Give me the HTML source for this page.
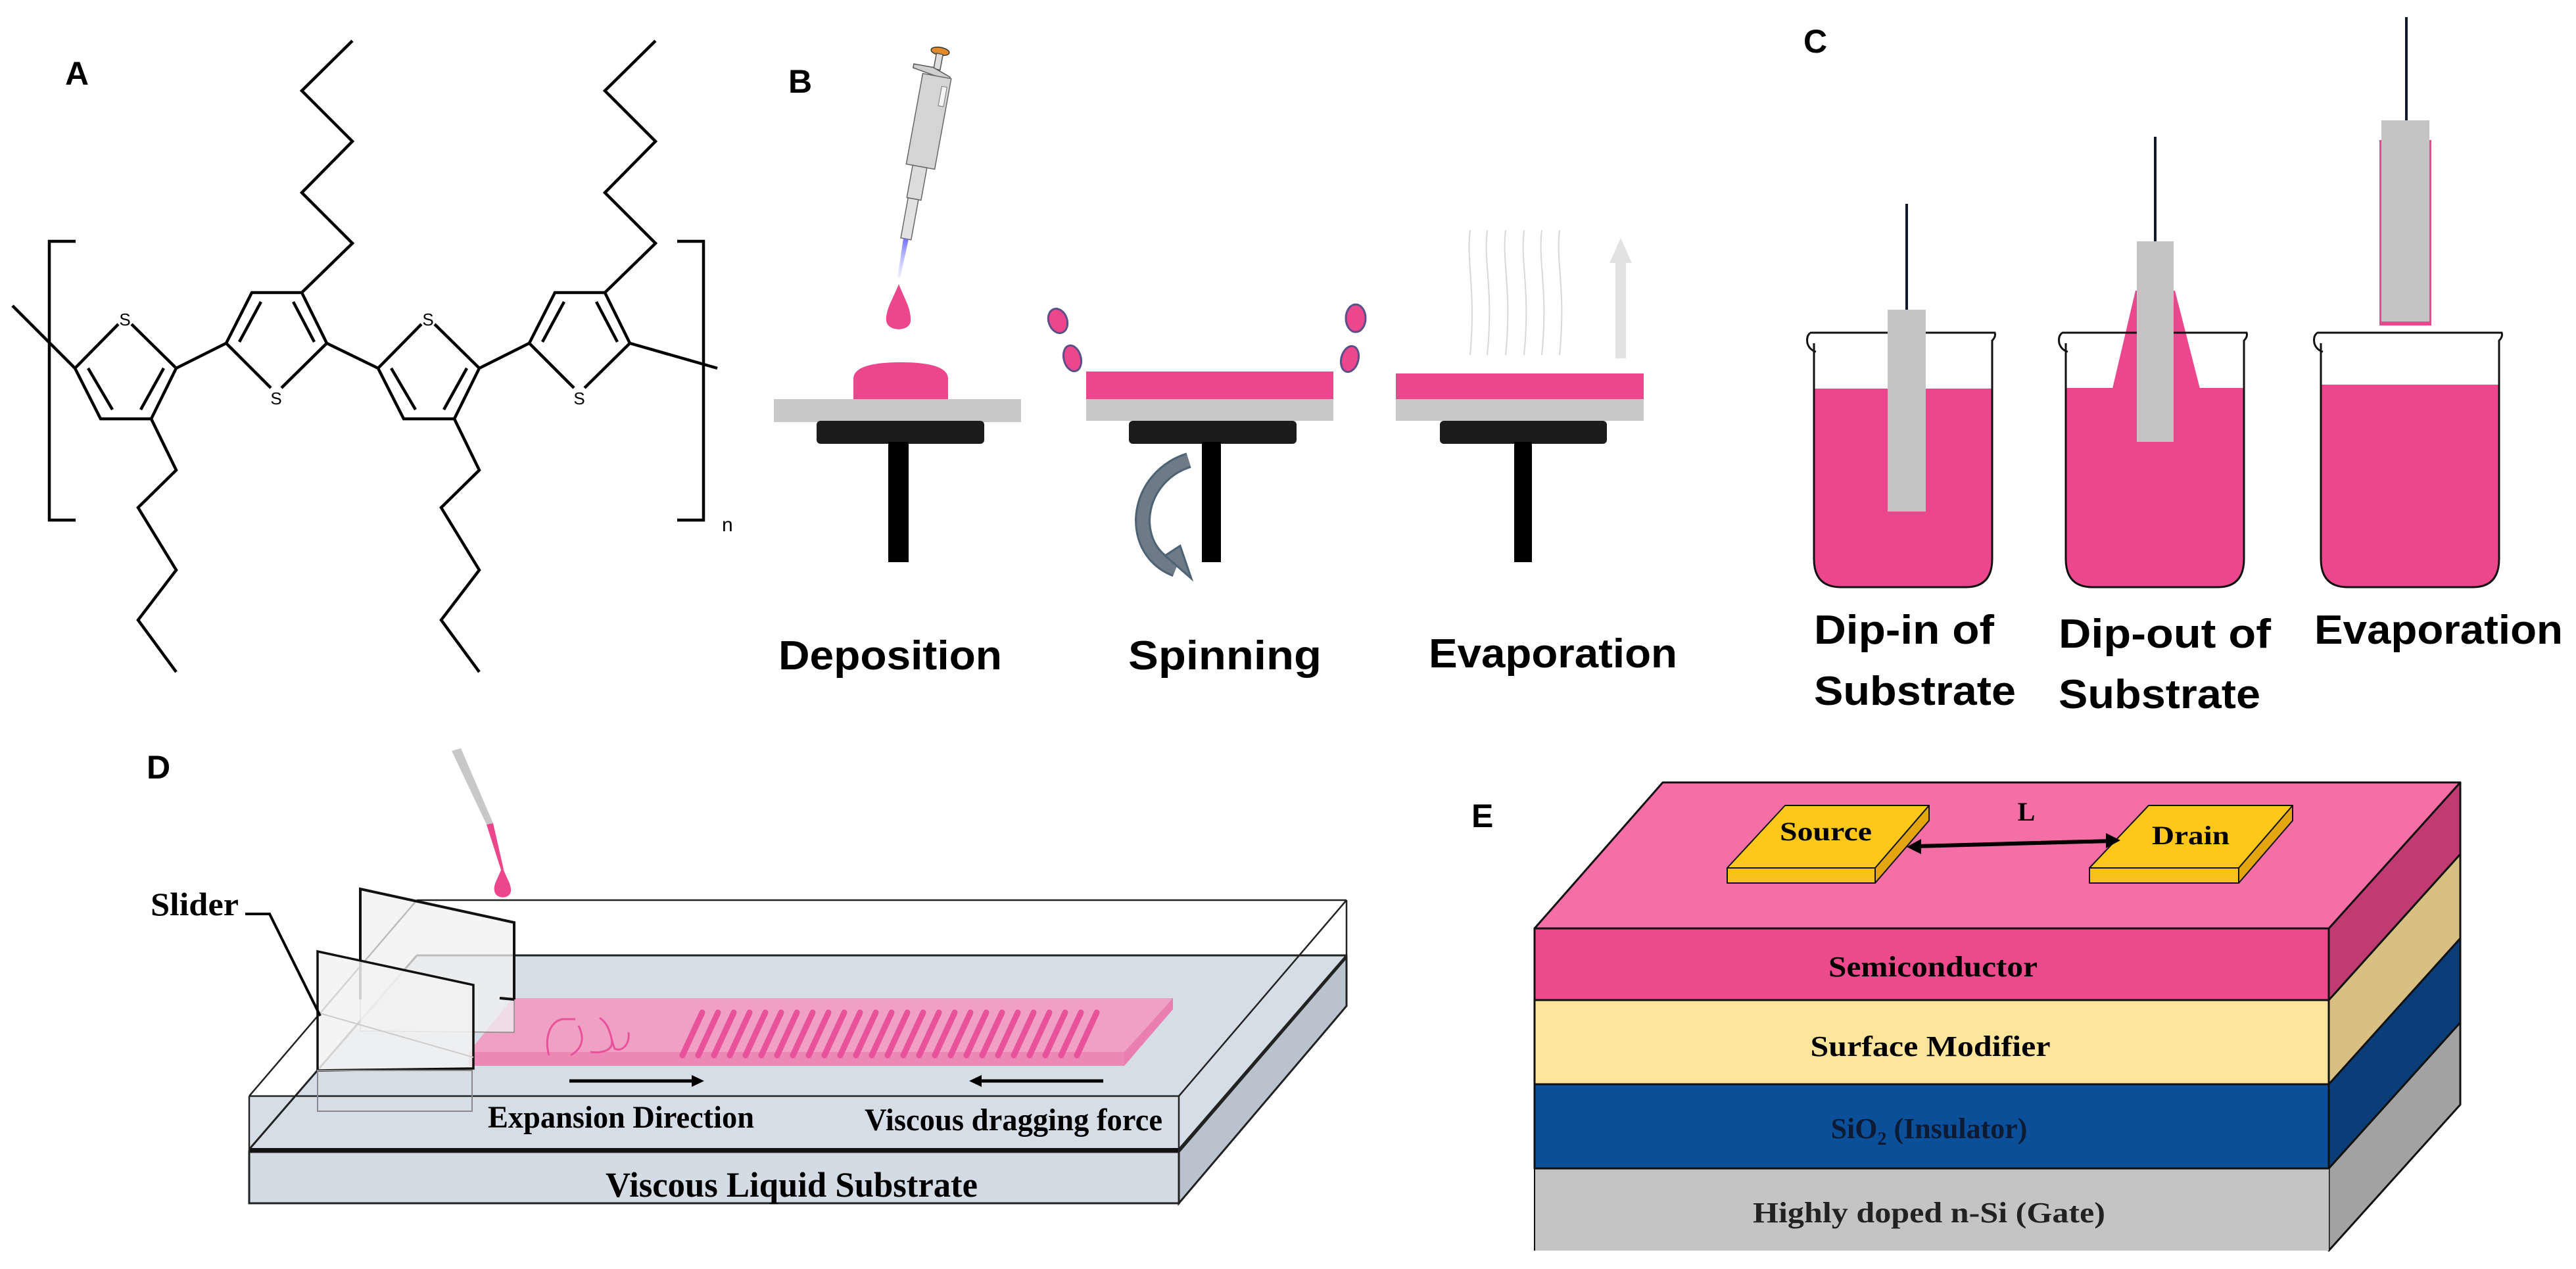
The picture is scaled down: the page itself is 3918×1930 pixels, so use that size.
<!DOCTYPE html>
<html><head><meta charset="utf-8"><style>html,body{margin:0;padding:0;background:#fff}svg{display:block}</style></head>
<body>
<svg width="3918" height="1930" viewBox="0 0 3918 1930" xmlns="http://www.w3.org/2000/svg">
<rect width="3918" height="1930" fill="#fff"/>
<defs>
<linearGradient id="blue" x1="0" y1="0" x2="0" y2="1"><stop offset="0" stop-color="#7070ff"/><stop offset="1" stop-color="#c8c8ff" stop-opacity="0.3"/></linearGradient>
</defs>

<g font-family="Liberation Sans, sans-serif" font-weight="bold" font-size="50" fill="#000">
<text x="99" y="129">A</text>
<text x="1199" y="141">B</text>
<text x="2743" y="80">C</text>
<text x="223" y="1184">D</text>
<text x="2238" y="1258">E</text>
</g>

<!-- Panel A -->
<g stroke="#000" stroke-width="4.5" fill="none" stroke-linejoin="miter">
<path d="M115,367 H75 V791 H115"/>
<path d="M1030,367 H1070 V791 H1030"/>
<path d="M19,465 L114,560"/>
<path d="M497,522 L575,560"/>
<path d="M958,522 L1091,560"/>
<g id="unit">
<path d="M180,493 L114,560 L153,637 L230,637 L268,560 L200,493"/>
<path d="M134,560 L171,623 M249,560 L214,623"/>
<path d="M268,560 L344,522"/>
<path d="M344,522 L383,445 L459,445 L497,522 L428,590 M412,590 L344,522"/>
<path d="M397,459 L364,520 M446,459 L478,520"/>
<path d="M459,445 L536,370 L459,293 L536,215 L459,138 L536,62"/>
<path d="M230,637 L268,715 L210,772 L268,867 L210,943 L268,1022"/>
</g>
<use href="#unit" transform="translate(461,0)"/>
</g>
<g font-family="Liberation Sans, sans-serif" font-size="26" fill="#000" text-anchor="middle">
<text x="190" y="495">S</text><text x="420" y="615">S</text>
<text x="651" y="495">S</text><text x="881" y="615">S</text>
</g>
<text x="1098" y="808" font-family="Liberation Sans, sans-serif" font-size="30">n</text>

<!-- Panel B -->
<g transform="translate(1430,78) rotate(10.35)">
<ellipse cx="0" cy="0" rx="14" ry="6" fill="#e08a2a" stroke="#333" stroke-width="1.5"/>
<rect x="-5" y="4" width="10" height="24" fill="#ddd" stroke="#555" stroke-width="1.5"/>
<path d="M-36,26 L-6,26 L22,36 L22,42 L-36,32 Z" fill="#cfcfcf" stroke="#555" stroke-width="1.5"/>
<rect x="-20" y="38" width="44" height="140" fill="#d4d4d4" stroke="#666" stroke-width="1.5"/>
<rect x="12" y="52" width="8" height="30" fill="#f4f4f4" stroke="#777" stroke-width="1"/>
<rect x="-10" y="178" width="22" height="50" fill="#dcdcdc" stroke="#666" stroke-width="1.5"/>
<rect x="-8" y="228" width="16" height="62" fill="#e2e2e2" stroke="#666" stroke-width="1.5"/>
<path d="M-4,290 L4,290 L2,350 L-2,350 Z" fill="url(#blue)"/>
</g>
<path d="M1367,432 C1358,455 1347,470 1348,488 C1350,505 1384,505 1385,488 C1386,470 1376,455 1367,432 Z" fill="#ec468d"/>
<path d="M1298,607 L1298,575 Q1300,551 1370,551 Q1440,551 1442,575 L1442,607 Z" fill="#ec468d"/>
<rect x="1177" y="607" width="376" height="35" fill="#c8c8c8"/>
<rect x="1242" y="640" width="255" height="35" rx="6" fill="#1c1c1c"/>
<rect x="1351" y="672" width="31" height="183" fill="#000"/>
<rect x="1652" y="565" width="376" height="42" fill="#ec468d"/>
<rect x="1652" y="607" width="376" height="33" fill="#c8c8c8"/>
<rect x="1717" y="640" width="255" height="35" rx="6" fill="#1c1c1c"/>
<rect x="1828" y="672" width="29" height="183" fill="#000"/>
<g fill="#ec468d" stroke="#5b4f8a" stroke-width="3">
<ellipse cx="1609" cy="488" rx="14" ry="19" transform="rotate(-20 1609 488)"/>
<ellipse cx="1631" cy="545" rx="13" ry="20" transform="rotate(-15 1631 545)"/>
<ellipse cx="2062" cy="484" rx="15" ry="21"/>
<ellipse cx="2053" cy="546" rx="13" ry="20" transform="rotate(15 2053 546)"/>
</g>
<path d="M1808,700 C1770,712 1740,745 1738,790 C1738,830 1760,855 1788,866" fill="none" stroke="#4d6275" stroke-width="24"/>
<path d="M1808,700 C1770,712 1740,745 1738,790 C1738,830 1760,855 1788,866" fill="none" stroke="#6e7a86" stroke-width="18"/>
<path d="M1772,845 L1812,880 L1795,830 Z" fill="#6e7a86" stroke="#4d6275" stroke-width="3"/>
<g stroke="#d8d8d8" stroke-width="2" fill="none">
<path d="M2236,350 C2230,400 2245,440 2236,540"/>
<path d="M2262,350 C2256,400 2272,440 2262,540"/>
<path d="M2290,350 C2284,400 2300,440 2290,540"/>
<path d="M2318,350 C2312,400 2328,440 2318,540"/>
<path d="M2345,350 C2339,400 2355,440 2345,540"/>
<path d="M2372,350 C2366,400 2382,440 2372,540"/>
</g>
<path d="M2457,545 L2457,400 L2448,400 L2465,362 L2482,400 L2473,400 L2473,545 Z" fill="#e2e2e2"/>
<rect x="2123" y="568" width="377" height="39" fill="#ec468d"/>
<rect x="2123" y="607" width="377" height="33" fill="#c8c8c8"/>
<rect x="2190" y="640" width="254" height="35" rx="6" fill="#1c1c1c"/>
<rect x="2303" y="672" width="27" height="183" fill="#000"/>
<g font-family="Liberation Sans, sans-serif" font-size="62" font-weight="bold" fill="#000">
<text x="1184" y="1018" textLength="340" lengthAdjust="spacingAndGlyphs">Deposition</text>
<text x="1716" y="1018" textLength="294" lengthAdjust="spacingAndGlyphs">Spinning</text>
<text x="2173" y="1015" textLength="378" lengthAdjust="spacingAndGlyphs">Evaporation</text>
</g>

<!-- Panel C -->
<path d="M2759,591 L3030,591 L3030,850 Q3030,893 2990,893 L2800,893 Q2759,893 2759,850 Z" fill="#ec468d"/>
<path d="M2759,522 L2759,850 Q2759,893 2800,893 L2990,893 Q3030,893 3030,850 L3030,518 Q3036,512 3034,506 L2754,506 Q2747,510 2749,522 Q2752,532 2762,535" fill="none" stroke="#111" stroke-width="3"/>
<rect x="2871" y="471" width="58" height="307" fill="#c4c4c4"/>
<line x1="2900" y1="310" x2="2900" y2="471" stroke="#111a2a" stroke-width="4"/>
<path d="M3142,590 L3413,590 L3413,850 Q3413,893 3373,893 L3183,893 Q3142,893 3142,850 Z" fill="#ec468d"/>
<path d="M3213,591 L3248,442 L3308,442 L3346,591 Z" fill="#ec468d"/>
<path d="M3142,522 L3142,850 Q3142,893 3183,893 L3373,893 Q3413,893 3413,850 L3413,518 Q3419,512 3417,506 L3137,506 Q3130,510 3132,522 Q3135,532 3145,535" fill="none" stroke="#111" stroke-width="3"/>
<rect x="3250" y="367" width="56" height="305" fill="#c4c4c4"/>
<line x1="3278" y1="208" x2="3278" y2="367" stroke="#111a2a" stroke-width="4"/>
<path d="M3530,585 L3801,585 L3801,850 Q3801,893 3761,893 L3571,893 Q3530,893 3530,850 Z" fill="#ec468d"/>
<path d="M3530,522 L3530,850 Q3530,893 3571,893 L3761,893 Q3801,893 3801,850 L3801,518 Q3807,512 3805,506 L3525,506 Q3518,510 3520,522 Q3523,532 3533,535" fill="none" stroke="#111" stroke-width="3"/>
<rect x="3619" y="213" width="79" height="282" fill="#ec468d"/>
<rect x="3622" y="183" width="73" height="306" fill="#c4c4c4"/>
<line x1="3660" y1="26" x2="3660" y2="183" stroke="#111a2a" stroke-width="4"/>
<g font-family="Liberation Sans, sans-serif" font-size="62" font-weight="bold" fill="#000">
<text x="2759" y="979" textLength="274" lengthAdjust="spacingAndGlyphs">Dip-in of</text>
<text x="2759" y="1072" textLength="307" lengthAdjust="spacingAndGlyphs">Substrate</text>
<text x="3131" y="985" textLength="323" lengthAdjust="spacingAndGlyphs">Dip-out of</text>
<text x="3131" y="1077" textLength="307" lengthAdjust="spacingAndGlyphs">Substrate</text>
<text x="3520" y="979" textLength="378" lengthAdjust="spacingAndGlyphs">Evaporation</text>
</g>

<!-- Panel D -->
<polygon points="1793,1752 2048,1456 2048,1530 1793,1830" fill="#b9c3cd" stroke="#222" stroke-width="3"/>
<rect x="379" y="1752" width="1414" height="78" fill="#d3dbe4" stroke="#222" stroke-width="3"/>
<polygon points="634,1453 2048,1453 1793,1748 379,1748" fill="#d5dee7"/>
<rect x="379" y="1667" width="1414" height="81" fill="#d5dee7"/>
<line x1="634" y1="1453" x2="2048" y2="1453" stroke="#222" stroke-width="3"/>
<line x1="379" y1="1749" x2="1793" y2="1749" stroke="#111" stroke-width="6"/>
<line x1="379" y1="1748" x2="634" y2="1453" stroke="#222" stroke-width="3"/>
<line x1="1793" y1="1748" x2="2048" y2="1453" stroke="#222" stroke-width="3"/>
<g stroke="#222" stroke-width="2.5" fill="none">
<line x1="634" y1="1369" x2="2048" y2="1369"/>
<line x1="2048" y1="1369" x2="2048" y2="1453"/>
<line x1="379" y1="1667" x2="1793" y2="1667"/>
<line x1="379" y1="1667" x2="379" y2="1752"/>
<line x1="1793" y1="1667" x2="1793" y2="1752"/>
<line x1="379" y1="1667" x2="634" y2="1369"/>
<line x1="1793" y1="1667" x2="2048" y2="1369"/>
</g>
<polygon points="780,1518 1784,1518 1710,1600 713,1600" fill="#f0a0c4"/>
<polygon points="713,1600 1710,1600 1710,1621 713,1621" fill="#ec88b6"/>
<polygon points="1710,1600 1784,1518 1784,1535 1710,1621" fill="#e97fb0"/>
<g stroke="#e8529a" stroke-width="9" stroke-linecap="round">
<line x1="1038" y1="1605" x2="1068" y2="1540"/><line x1="1062" y1="1605" x2="1092" y2="1540"/><line x1="1086" y1="1605" x2="1116" y2="1540"/><line x1="1110" y1="1605" x2="1140" y2="1540"/><line x1="1134" y1="1605" x2="1164" y2="1540"/><line x1="1158" y1="1605" x2="1188" y2="1540"/><line x1="1182" y1="1605" x2="1212" y2="1540"/><line x1="1206" y1="1605" x2="1236" y2="1540"/><line x1="1230" y1="1605" x2="1260" y2="1540"/><line x1="1254" y1="1605" x2="1284" y2="1540"/><line x1="1278" y1="1605" x2="1308" y2="1540"/><line x1="1302" y1="1605" x2="1332" y2="1540"/><line x1="1326" y1="1605" x2="1356" y2="1540"/><line x1="1350" y1="1605" x2="1380" y2="1540"/><line x1="1374" y1="1605" x2="1404" y2="1540"/><line x1="1398" y1="1605" x2="1428" y2="1540"/><line x1="1422" y1="1605" x2="1452" y2="1540"/><line x1="1446" y1="1605" x2="1476" y2="1540"/><line x1="1470" y1="1605" x2="1500" y2="1540"/><line x1="1494" y1="1605" x2="1524" y2="1540"/><line x1="1518" y1="1605" x2="1548" y2="1540"/><line x1="1542" y1="1605" x2="1572" y2="1540"/><line x1="1566" y1="1605" x2="1596" y2="1540"/><line x1="1590" y1="1605" x2="1620" y2="1540"/><line x1="1614" y1="1605" x2="1644" y2="1540"/><line x1="1638" y1="1605" x2="1668" y2="1540"/>
</g>
<g stroke="#e8529a" stroke-width="3" fill="none">
<path d="M835,1605 C828,1580 835,1555 855,1550 L875,1550"/>
<path d="M868,1605 C885,1595 890,1580 880,1560"/>
<path d="M912,1548 C930,1560 928,1580 935,1595 C945,1600 958,1590 956,1570"/>
<path d="M898,1600 C915,1602 935,1598 930,1580"/>
</g>
<polygon points="548,1352 782,1403 782,1570 548,1568" fill="#f0f0f0" fill-opacity="0.75" stroke="#888" stroke-width="1.5"/>
<path d="M548,1520 L548,1352 L782,1403 L782,1520" fill="none" stroke="#111" stroke-width="4"/>
<path d="M782,1520 L760,1518" stroke="#111" stroke-width="4"/>
<polygon points="483,1447 720,1498 720,1625 483,1628" fill="#f2f2f2" fill-opacity="0.85" stroke="#111" stroke-width="3.5"/>
<rect x="483" y="1628" width="235" height="62" fill="none" stroke="#888" stroke-width="2"/>
<line x1="483" y1="1540" x2="720" y2="1608" stroke="#ccc" stroke-width="2"/>
<line x1="866" y1="1644" x2="1055" y2="1644" stroke="#000" stroke-width="5"/>
<polygon points="1052,1635 1071,1644 1052,1653" fill="#000"/>
<line x1="1678" y1="1644" x2="1490" y2="1644" stroke="#000" stroke-width="5"/>
<polygon points="1493,1635 1474,1644 1493,1653" fill="#000"/>
<polygon points="687,1142 701,1138 750,1252 740,1254" fill="#c8c8c8"/>
<polygon points="740,1254 750,1252 766,1322 762,1323" fill="#ec468d"/>
<path d="M764,1318 C758,1335 750,1345 752,1355 C754,1368 776,1368 777,1355 C778,1345 770,1335 764,1318 Z" fill="#ec468d"/>
<path d="M373,1390 L410,1390 L487,1545" fill="none" stroke="#000" stroke-width="4"/>
<g font-family="Liberation Serif, serif" font-weight="bold" fill="#000">
<text x="229" y="1392" font-size="50" textLength="134" lengthAdjust="spacingAndGlyphs">Slider</text>
<text x="742" y="1715" font-size="48" textLength="405" lengthAdjust="spacingAndGlyphs">Expansion Direction</text>
<text x="1315" y="1719" font-size="48" textLength="453" lengthAdjust="spacingAndGlyphs">Viscous dragging force</text>
<text x="921" y="1820" font-size="54" textLength="566" lengthAdjust="spacingAndGlyphs">Viscous Liquid Substrate</text>
</g>

<!-- Panel E -->
<g stroke="#111" stroke-width="3" stroke-linejoin="round">
<polygon points="3542,1777 3742,1555 3742,1680 3542,1902" fill="#a2a2a2"/>
<polygon points="3542,1649 3742,1427 3742,1555 3542,1777" fill="#0b3e78"/>
<polygon points="3542,1521 3742,1299 3742,1427 3542,1649" fill="#d8bf82"/>
<polygon points="3542,1412 3742,1190 3742,1299 3542,1521" fill="#c23a72"/>
<polygon points="2529,1190 3742,1190 3542,1412 2334,1412" fill="#f56ea5"/>
<rect x="2334" y="1412" width="1208" height="109" fill="#ec4a8c"/>
<rect x="2334" y="1521" width="1208" height="128" fill="#fee59c"/>
<rect x="2334" y="1649" width="1208" height="128" fill="#0a4f98"/>
<rect x="2334" y="1777" width="1208" height="125" fill="#c4c4c4" stroke="none"/>
<line x1="2334" y1="1777" x2="3542" y2="1777"/>
<line x1="2334" y1="1777" x2="2334" y2="1902" stroke-width="2"/>
<polygon points="2627,1320 2852,1320 2852,1343 2627,1343" fill="#f7c21a" stroke-width="2"/>
<polygon points="2852,1320 2934,1225 2934,1248 2852,1343" fill="#e4a60e" stroke-width="2"/>
<polygon points="2715,1225 2934,1225 2852,1320 2627,1320" fill="#fdc81a" stroke-width="2"/>
<polygon points="3178,1320 3405,1320 3405,1343 3178,1343" fill="#f7c21a" stroke-width="2"/>
<polygon points="3405,1320 3487,1225 3487,1248 3405,1343" fill="#e4a60e" stroke-width="2"/>
<polygon points="3268,1225 3487,1225 3405,1320 3178,1320" fill="#fdc81a" stroke-width="2"/>
</g>
<line x1="2915" y1="1287" x2="3210" y2="1279" stroke="#000" stroke-width="6"/>
<polygon points="2900,1288 2922,1276 2922,1299" fill="#000"/>
<polygon points="3225,1278 3203,1267 3203,1290" fill="#000"/>
<g font-family="Liberation Serif, serif" font-weight="bold" fill="#000" text-anchor="middle">
<text x="3082" y="1248" font-size="40">L</text>
<text x="2777" y="1278" font-size="40" textLength="140" lengthAdjust="spacingAndGlyphs">Source</text>
<text x="3332" y="1284" font-size="40" textLength="118" lengthAdjust="spacingAndGlyphs">Drain</text>
<text x="2940" y="1485" font-size="44" textLength="318" lengthAdjust="spacingAndGlyphs">Semiconductor</text>
<text x="2936" y="1606" font-size="44" textLength="365" lengthAdjust="spacingAndGlyphs">Surface Modifier</text>
<text x="2934" y="1731" font-size="44" fill="#0d1a33">SiO<tspan font-size="28" dy="10">2</tspan><tspan dy="-10"> (Insulator)</tspan></text>
<text x="2934" y="1859" font-size="44" fill="#222" textLength="536" lengthAdjust="spacingAndGlyphs">Highly doped n-Si (Gate)</text>
</g>
</svg>
</body></html>
